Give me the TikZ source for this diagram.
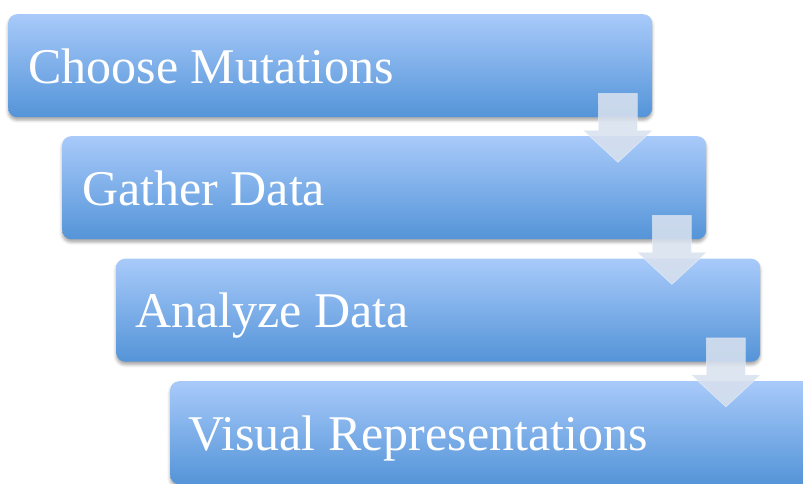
\documentclass[tikz,border=0pt]{standalone}
\usepackage{fontspec}
\setmainfont{Liberation Serif}
\usetikzlibrary{calc,shadows.blur}
\definecolor{boxtop}{RGB}{168,202,250}
\definecolor{boxbot}{RGB}{84,148,216}
\definecolor{arrowfill}{RGB}{216,225,238}
\begin{document}
\begin{tikzpicture}[x=1pt,y=-1pt,
  stagebox/.style={rectangle, rounded corners=9pt, minimum width=644pt, minimum height=103pt,
    top color=boxtop, bottom color=boxbot, draw=none, anchor=north west, inner sep=0pt,
    blur shadow={shadow xshift=0pt, shadow yshift=-3pt, shadow blur radius=3pt, shadow opacity=35}},
  stagetext/.style={anchor=base west, text=white, font=\fontsize{50}{50}\selectfont, inner sep=0pt},
  flowarrow/.style={fill=arrowfill, fill opacity=0.88, draw=white, draw opacity=0.5, line width=0.5pt}]
\path[use as bounding box] (0,0) rectangle (803,483);
\clip (0,0) rectangle (803,483);
\node[stagebox] (b1) at (8,14) {};
\node[stagebox] (b2) at (62,136) {};
\node[stagebox] (b3) at (116,258.5) {};
\node[stagebox] (b4) at (170,381) {};
\node[stagetext] (t1) at ($(b1.north west)+(20pt,-69pt)$) {Choose Mutations};
\node[stagetext] (t2) at ($(b2.north west)+(20pt,-69pt)$) {Gather Data};
\node[stagetext] (t3) at ($(b3.north west)+(19pt,-69pt)$) {Analyze Data};
\node[stagetext] (t4) at ($(b4.north west)+(18pt,-69pt)$) {Visual Representations};
\foreach \b in {b1,b2,b3}{
  \draw[flowarrow] ($(\b.south east)+(-54pt,24pt)$) -- ++(39pt,0pt) -- ++(0pt,-37pt) -- ++(15pt,0pt)
    -- ($(\b.south east)+(-34.5pt,-45pt)$) -- ($(\b.south east)+(-69pt,-13pt)$) -- ++(15pt,0pt) -- cycle;
}
\end{tikzpicture}
\end{document}
